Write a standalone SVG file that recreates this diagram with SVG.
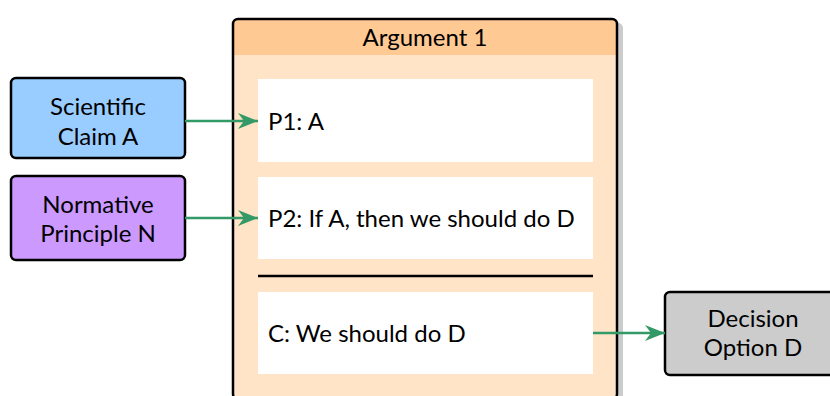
<svg xmlns="http://www.w3.org/2000/svg" width="830" height="396" viewBox="0 0 830 396">
  <style>
    text { font-family: "Lato", "Noto Sans", sans-serif; font-size: 24px; fill: #000; }
    .mid { text-anchor: middle; }
    .node { stroke: #000; stroke-width: 2.5; }
    .edge { stroke: #339966; stroke-width: 2.5; fill: none; }
    .slot { fill: #fff; }
  </style>
  <defs>
    <marker id="arrow" viewBox="0 0 10 10" preserveAspectRatio="none" refX="10" refY="5" markerWidth="8" markerHeight="6.4" markerUnits="strokeWidth" orient="auto">
      <path d="M0,0 L10,5 L0,10 L3,5 Z" fill="#339966"/>
    </marker>
  </defs>

  <rect width="830" height="396" fill="#fff"/>

  <!-- argument container -->
  <g id="argument1">
    <rect x="237" y="23" width="386" height="380" rx="5" fill="#cccccc"/>
    <rect x="233" y="19" width="384" height="380" rx="5" fill="#ffe4c8"/>
    <path d="M233,55 V24 a5,5 0 0 1 5,-5 H612 a5,5 0 0 1 5,5 V55 Z" fill="#ffc994"/>
    <rect x="233" y="19" width="384" height="380" rx="5" fill="none" stroke="#000" stroke-width="2.5"/>
    <text class="mid" x="425" y="46">Argument 1</text>
    <g id="p1">
      <rect class="slot" x="258" y="79" width="335" height="83"/>
      <text x="268" y="130">P1: A</text>
    </g>
    <g id="p2">
      <rect class="slot" x="258" y="177" width="335" height="82"/>
      <text x="268" y="227">P2: If A, then we should do D</text>
    </g>
    <line x1="258" y1="276" x2="593" y2="276" stroke="#000" stroke-width="2.5"/>
    <g id="conclusion">
      <rect class="slot" x="258" y="292" width="335" height="82"/>
      <text x="268" y="342">C: We should do D</text>
    </g>
  </g>

  <g id="scientific-claim">
    <rect class="node" x="11" y="78" width="174" height="80" rx="5" fill="#99ccff"/>
    <text class="mid" x="98" y="115">Scientific</text>
    <text class="mid" x="98" y="145">Claim A</text>
  </g>

  <g id="normative-principle">
    <rect class="node" x="11" y="176" width="174" height="84" rx="5" fill="#cc99ff"/>
    <text class="mid" x="98" y="213">Normative</text>
    <text class="mid" x="98" y="242">Principle N</text>
  </g>

  <g id="decision-option">
    <rect class="node" x="665" y="292" width="176" height="83" rx="5" fill="#cccccc"/>
    <text class="mid" x="753" y="327">Decision</text>
    <text class="mid" x="753" y="356">Option D</text>
  </g>

  <g id="connectors">
    <line class="edge" x1="185" y1="121" x2="258" y2="121" marker-end="url(#arrow)"/>
    <line class="edge" x1="185" y1="218" x2="258" y2="218" marker-end="url(#arrow)"/>
    <line class="edge" x1="593" y1="333" x2="665" y2="333" marker-end="url(#arrow)"/>
  </g>
</svg>
